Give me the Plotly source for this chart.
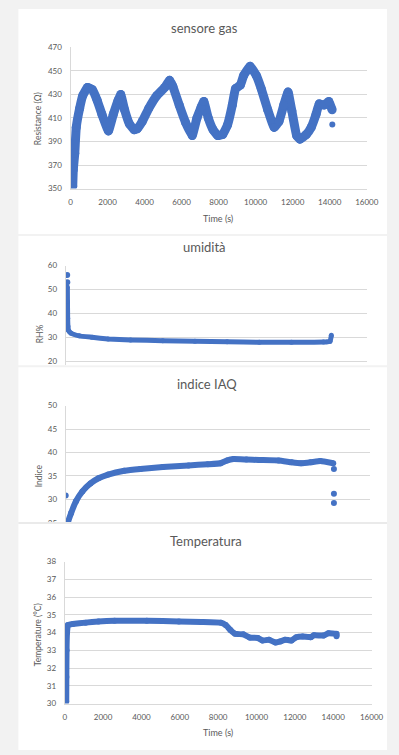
import plotly.graph_objects as go

W, H = 399, 755

# ---------------- data ----------------
gas_t = [120, 150, 230, 310, 490, 660, 920, 1180, 1440, 1700, 2050, 2310, 2570, 2710, 2920,
         3180, 3440, 3610, 3875, 4220, 4660, 5090, 5350, 5525, 5870, 6220, 6570, 6830, 7050,
         7200, 7440, 7700, 7960, 8220, 8480, 8740, 8910, 9175, 9350, 9700, 10040, 10300,
         10650, 11000, 11260, 11520, 11750, 11955, 12215, 12390, 12740, 13000, 13260, 13430,
         13690, 13950, 14130]
gas_r = [352, 366, 380, 402, 418, 429, 436, 434, 425, 413, 399, 413, 425, 430, 417,
         405, 400, 401, 407, 418, 429, 436, 442, 437, 421, 406, 395, 410, 419,
         424, 410, 400, 395, 396, 404, 421, 435, 438, 446, 454, 446, 435,
         417, 402, 407, 421, 432, 416, 395, 392, 396, 402, 413, 422,
         421, 424, 417]
gas_out_t = [14140]
gas_out_r = [404.5]

hum_t = [90, 95, 105, 120, 140, 290, 718, 1400, 2257, 3450, 5160, 6870, 8580, 10290,
         12000, 13700, 14050, 14120]
hum_v = [51, 45, 38, 34.5, 33, 31.7, 30.6, 30.0, 29.3, 28.9, 28.6, 28.3, 28.1, 27.9,
         27.9, 28.0, 28.3, 30.8]
hum_out_t = [80, 85]
hum_out_v = [56, 53]

iaq_t = [80, 118, 288, 542, 880, 1305, 1727, 2235, 3083, 3930, 5114, 6467, 7480, 8160,
         8500, 8840, 9513, 10190, 11210, 11885, 12390, 12900, 13410, 14085]
iaq_v = [23, 25.05, 27.1, 29.6, 31.7, 33.4, 34.5, 35.3, 36.1, 36.5, 36.9, 37.25, 37.5, 37.7,
         38.3, 38.6, 38.5, 38.4, 38.3, 37.9, 37.7, 37.9, 38.2, 37.7]
iaq_out_t = [0, 14120, 14120, 14120]
iaq_out_v = [30.8, 36.5, 31.2, 29.2]

temp_t = [80, 85, 95, 120, 168, 419, 1090, 1761, 2600, 4277, 5953, 7127, 8136, 8386, 8638,
          8889, 9308, 9644, 10063, 10314, 10650, 10985, 11236, 11488, 11823, 12075, 12410,
          12830, 12997, 13500, 13752, 14172, 14172]
temp_v = [30.1, 31.5, 33.0, 34.0, 34.43, 34.48, 34.56, 34.63, 34.67, 34.67, 34.63, 34.6,
          34.56, 34.43, 34.15, 33.93, 33.9, 33.72, 33.7, 33.55, 33.6, 33.44, 33.5, 33.6,
          33.55, 33.74, 33.78, 33.74, 33.85, 33.83, 33.96, 33.93, 33.8]

titles = ["sensore gas", "umidità", "indice IAQ", "Temperatura"]
y_titles = ["Resistance (Ω)", "RH%", "Indice", "Temperature (°C)"]
x_title = "Time (s)"

BLUE = "#4472C4"
GRID = "#d9d9d9"
TXT = "#595959"
FONT = "Lato"


def px(x):
    return x / W


def py(y):
    return 1 - y / H


fig = go.Figure()

series = [
    (gas_t, gas_r, gas_out_t, gas_out_r, 9),
    (hum_t, hum_v, hum_out_t, hum_out_v, 5),
    (iaq_t, iaq_v, iaq_out_t, iaq_out_v, 6),
    (temp_t, temp_v, [], [], 6),
]
for i, (t, v, ot, ov, lw) in enumerate(series):
    xa = "x" if i == 0 else f"x{i+1}"
    ya = "y" if i == 0 else f"y{i+1}"
    fig.add_trace(go.Scatter(x=t, y=v, mode="lines+markers", xaxis=xa, yaxis=ya,
                             line=dict(color=BLUE, width=lw, shape="spline", smoothing=0.3),
                             marker=dict(color=BLUE, size=lw), showlegend=False,
                             hoverinfo="skip"))
    if ot:
        fig.add_trace(go.Scatter(x=ot, y=ov, mode="markers", xaxis=xa, yaxis=ya,
                                 marker=dict(color=BLUE, size=6), showlegend=False,
                                 hoverinfo="skip"))

# panel geometry in pixels
panels = [
    dict(rect=(17, 4, 399, 232), xd=(71, 378), yd=(43, 186), yr=(350, 470), dt=20, t0=350, showx=True),
    dict(rect=(17, 234, 399, 365), xd=(66, 378), yd=(264, 365), yr=(18.35, 60), dt=10, t0=0, showx=False),
    dict(rect=(17, 367, 399, 525), xd=(66, 381), yd=(406, 525), yr=(24.95, 50), dt=5, t0=0, showx=False),
    dict(rect=(17, 526, 399, 755), xd=(65, 383), yd=(564, 708), yr=(30, 38), dt=1, t0=0, showx=True),
]

shapes = []
for p in panels:
    x0, y0, x1, y1 = p["rect"]
    shapes.append(dict(type="rect", xref="paper", yref="paper", x0=px(x0), x1=px(x1),
                       y0=py(y1), y1=py(y0), fillcolor="white", line=dict(width=0),
                       layer="below"))
# cover the clipped bottom of panel 3 labels with top band of panel 4
shapes.append(dict(type="rect", xref="paper", yref="paper", x0=px(0), x1=px(399),
                   y0=py(532), y1=py(524), fillcolor="white", line=dict(width=0),
                   layer="above"))
shapes.append(dict(type="rect", xref="paper", yref="paper", x0=px(0), x1=px(17),
                   y0=py(532), y1=py(524), fillcolor="#f2f2f2", line=dict(width=0),
                   layer="above"))
shapes.append(dict(type="line", xref="paper", yref="paper", x0=px(17), x1=px(399),
                   y0=py(525), y1=py(525), line=dict(color="#e3e3e3", width=1.5),
                   layer="above"))

layout = dict(width=W, height=H, margin=dict(l=0, r=0, t=0, b=0),
              paper_bgcolor="#f2f2f2", plot_bgcolor="white",
              font=dict(family=FONT, color=TXT, size=8), shapes=shapes,
              showlegend=False)

annotations = []
title_pos = [(210, 23), (210, 245), (212, 384), (211, 543)]
ytitle_pos = [(38, 115), (39, 333), (38, 477), (37, 638)]
xtitle_pos = [(224, 216), None, None, (224, 737)]

for i, p in enumerate(panels):
    sx = "" if i == 0 else str(i + 1)
    layout["xaxis" + sx] = dict(
        domain=[px(p["xd"][0]), px(p["xd"][1])], range=[0, 16000], dtick=2000, tick0=0,
        tickformat="d",
        anchor="y" + sx, showgrid=False, zeroline=False,
        showline=p["showx"], linecolor=GRID, linewidth=1,
        showticklabels=p["showx"], ticks="outside" if p["showx"] else "",
        ticklen=6, tickcolor="rgba(0,0,0,0)",
        tickfont=dict(family=FONT, size=8, color=TXT), fixedrange=True)
    layout["yaxis" + sx] = dict(
        domain=[py(p["yd"][1]), py(p["yd"][0])], range=list(p["yr"]),
        tick0=p["t0"], dtick=p["dt"], tickformat="d", anchor="x" + sx, showgrid=True,
        gridcolor=GRID, gridwidth=1, zeroline=False, showline=True, linecolor=GRID,
        linewidth=1, ticks="outside", ticklen=6, tickcolor="rgba(0,0,0,0)",
        tickfont=dict(family=FONT, size=8, color=TXT), fixedrange=True)
    tx, ty = title_pos[i]
    annotations.append(dict(text=titles[i], x=px(tx), y=py(ty), xref="paper", yref="paper",
                            showarrow=False, xanchor="center", yanchor="middle",
                            font=dict(family=FONT, size=13, color=TXT)))
    yx, yy = ytitle_pos[i]
    annotations.append(dict(text=y_titles[i], x=px(yx), y=py(yy), xref="paper", yref="paper",
                            showarrow=False, xanchor="center", yanchor="middle", textangle=-90,
                            font=dict(family=FONT, size=8.5, color=TXT)))
    if xtitle_pos[i]:
        xx, xy = xtitle_pos[i]
        annotations.append(dict(text=x_title, x=px(xx), y=py(xy), xref="paper", yref="paper",
                                showarrow=False, xanchor="center", yanchor="middle",
                                font=dict(family=FONT, size=9, color=TXT)))

layout["annotations"] = annotations
fig.update_layout(**layout)
fig.write_html("out.html", config=dict(displayModeBar=False))
